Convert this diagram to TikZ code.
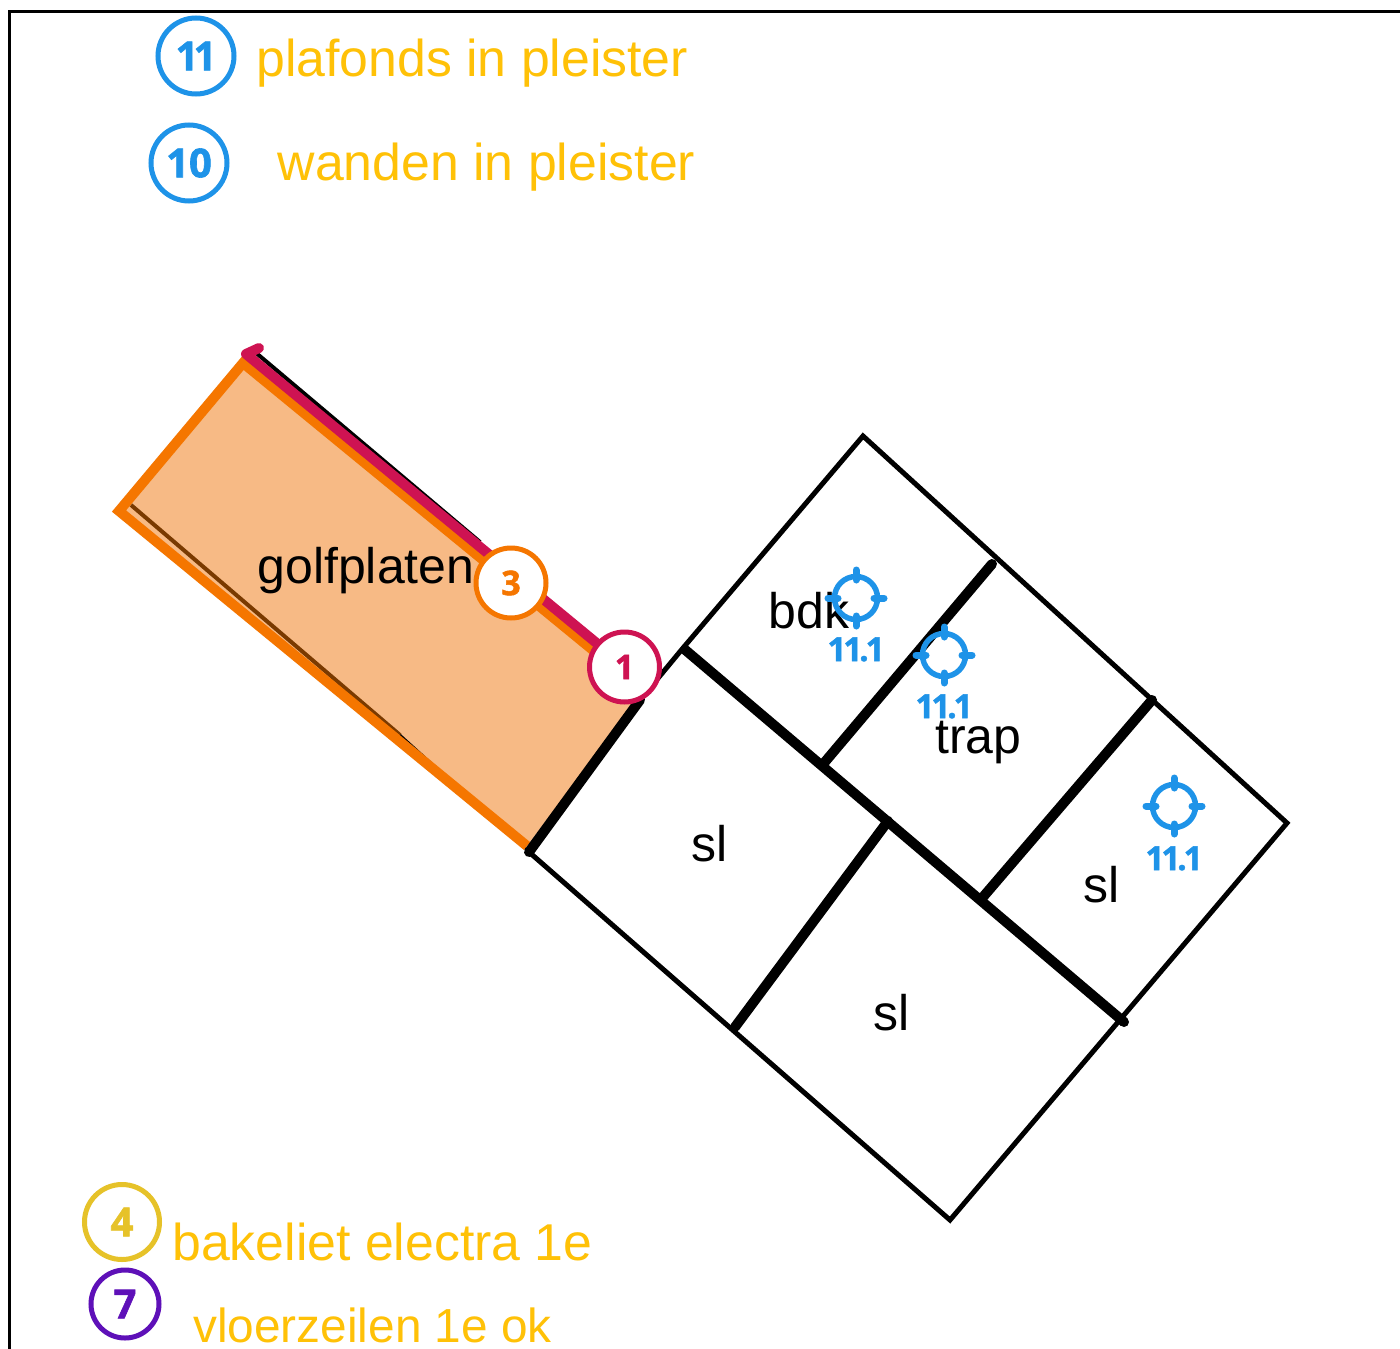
\documentclass[tikz,border=0pt]{standalone}
\usepackage{fontspec}
\setmainfont{Liberation Sans}
\newfontfamily\badgefont{Open Sans}[BoldFeatures={FakeBold=1.5}]
\definecolor{amber}{HTML}{FFC107}
\definecolor{blueb}{HTML}{1E93E8}
\definecolor{orangeb}{HTML}{F57600}
\definecolor{crim}{HTML}{CE1352}
\definecolor{yell}{HTML}{E6C229}
\definecolor{purp}{HTML}{5E10B8}
\definecolor{peach}{HTML}{F7BA85}
\definecolor{brownl}{HTML}{7A3A00}
\tikzset{
  x=1pt,y=-1pt,
  legend/.style={text=amber,font=\fontsize{51.8}{52}\selectfont,anchor=base west,inner sep=0pt},
  room/.style={text=black,font=\fontsize{50}{50}\selectfont,inner sep=0pt,anchor=base},
  badge/.style={circle,draw=#1,fill=white,text=#1,line width=5pt,minimum size=70pt,inner sep=0pt,font=\badgefont\bfseries\fontsize{34}{34}\selectfont},
  bigbadge/.style={badge=#1,minimum size=76pt,font=\badgefont\bfseries\fontsize{40}{40}\selectfont},
  tag/.style={text=blueb,font=\badgefont\bfseries\addfontfeature{LetterSpace=-9}\fontsize{33}{33}\selectfont,inner sep=0pt,anchor=base},
  wall/.style={line width=5pt,black,line cap=round,line join=miter},
  heavy wall/.style={line width=10pt,black,line cap=round},
  tick/.style={line width=7pt,blueb,line cap=round},
}
\newcommand{\crosshair}[2]{%
  \node[circle,draw=blueb,line width=5.5pt,minimum size=43pt,inner sep=0pt] (#2) at #1 {};
  \draw[tick] (#2.center) ++(0,-28) -- ++(0,10);
  \draw[tick] (#2.center) ++(0,28) -- ++(0,-10);
  \draw[tick] (#2.center) ++(-28,0) -- ++(10,0);
  \draw[tick] (#2.center) ++(28,0) -- ++(-10,0);
}
\begin{document}
\begin{tikzpicture}
\useasboundingbox (0,0) rectangle (1400,1349);
\fill[white] (0,0) rectangle (1400,1349);
% frame
\coordinate (f1) at (9,1349);
\coordinate (f2) at (9,11);
\coordinate (f3) at (1400,11);
\draw[line width=3pt,black] (f1) -- (f2) -- (f3);
% black lines under the orange part
\coordinate (w1) at (255,352);
\coordinate (w2) at (124,503);
\coordinate (w3) at (529,852);
\coordinate (w4) at (683,648);
\coordinate (w5) at (480,542);
\draw[line width=4pt,black] (w2) -- (w1) -- (w5);
% orange area
\coordinate (o1) at (243,363);
\coordinate (o2) at (119,511);
\coordinate (o3) at (527,846);
\coordinate (o4) at (640,695);
\coordinate (o5) at (605,660);
\fill[peach] (o1) -- (o2) -- (o3) -- (o4) -- (o5) -- cycle;
\draw[line width=4pt,brownl] (131,505) -- (400,735);
\draw[black,line width=2.5pt] (400,735) -- (527,850);
\draw[orangeb,line width=10pt,miter limit=10] (o3) -- (o2) -- (o1) -- (o5);
% building
\coordinate (b1) at (863,436);
\coordinate (b2) at (1287,823);
\coordinate (b3) at (950,1220);
\draw[wall] (640,700) -- (w4) -- (b1) -- (b2) -- (b3) -- (w3);
\draw[heavy wall] (w3) -- (640,700);
\coordinate (t1) at (1124,1022);
\draw[heavy wall,line cap=butt] (w4) -- (t1);
\fill[black] (t1) circle (5pt);
\draw[heavy wall] (992,564) -- (824,763);
\draw[heavy wall] (1152,700) -- (983,897);
\draw[heavy wall] (888,821) -- (735,1027);
% crimson
\draw[crim,line width=10pt,line cap=round,line join=round] (259,348) -- (246,354) -- (605,650);
% room labels
\node[room] (gp) at (366,583) {golfplaten};
\node[room] (bdk) at (809,628) {bdk};
\node[room] (trp) at (978.5,753) {trap};
\node[room] (s1) at (709.5,861) {sl};
\node[room] (s2) at (1101.5,902) {sl};
\node[room] (s3) at (891.5,1030) {sl};
% badges on plan
\node[badge=orangeb] (n3) at (511,583) {3};
\node[badge=crim] (n1) at (624.5,667) {1};
% crosshairs
\crosshair{(856,598)}{c1}
\node[tag] (l1) at (856,661) {11.1};
\crosshair{(944,655)}{c2}
\node[tag] (l2) at (944,718) {11.1};
\crosshair{(1174,806)}{c3}
\node[tag] (l3) at (1174,870) {11.1};
% legend
\node[bigbadge=blueb,font=\badgefont\bfseries\addfontfeature{LetterSpace=-12}\fontsize{40}{40}\selectfont] (n11) at (196,56) {11};
\node[bigbadge=blueb] (n10) at (189,163) {10};
\node[bigbadge=yell,minimum size=75pt] (n4) at (122,1222) {4};
\node[bigbadge=purp,minimum size=68pt] (n7) at (125,1304) {7};
\node[legend] (t11) at (256,76) {plafonds in pleister};
\node[legend] (t10) at (277.5,180.5) {wanden in pleister};
\node[legend] (t4) at (172,1260) {bakeliet electra 1e};
\node[legend,font=\fontsize{47.8}{48}\selectfont] (t7) at (193,1342) {vloerzeilen 1e ok};
\end{tikzpicture}
\end{document}
